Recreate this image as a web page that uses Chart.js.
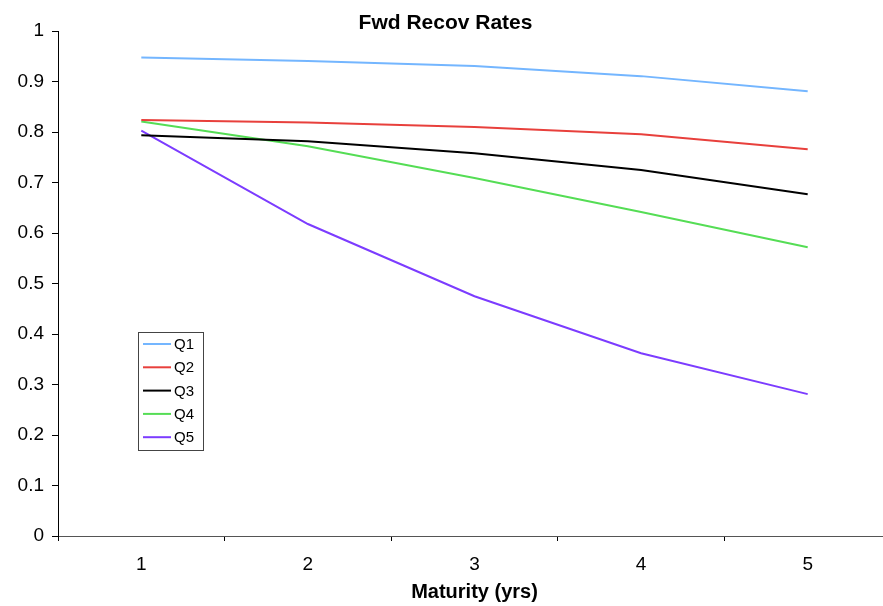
<!DOCTYPE html>
<html>
<head>
<meta charset="utf-8">
<script src="https://cdn.jsdelivr.net/npm/chart.js@4"></script>
<style>
  html, body { margin: 0; padding: 0; background: #fff; overflow: hidden; }
  #wrap { width: 900px; height: 606px; }
</style>
</head>
<body>
<div id="wrap"><canvas id="grafico"></canvas></div>
<script>
const maturities = ['1', '2', '3', '4', '5'];
const q1 = [0.948, 0.941, 0.931, 0.911, 0.881];
const q2 = [0.824, 0.819, 0.810, 0.796, 0.766];
const q3 = [0.794, 0.782, 0.758, 0.725, 0.677];
const q4 = [0.821, 0.772, 0.709, 0.642, 0.572];
const q5 = [0.803, 0.618, 0.475, 0.362, 0.281];

const fuente = 'Arial, "Liberation Sans", sans-serif';

// legend box drawn inside the plot, like the original
const leyendaCaja = {
    id: 'leyendaCaja',
    afterDraw(chart) {
        const ctx = chart.ctx;
        const x = 138, y = 332, w = 65, h = 118;
        ctx.save();
        ctx.fillStyle = '#fff';
        ctx.fillRect(x, y, w, h);
        ctx.strokeStyle = '#444';
        ctx.lineWidth = 1;
        ctx.strokeRect(x + 0.5, y + 0.5, w, h);
        ctx.font = '15px ' + fuente;
        ctx.textBaseline = 'middle';
        chart.data.datasets.forEach((ds, i) => {
            const fy = 344 + i * 23.3;
            ctx.strokeStyle = ds.borderColor;
            ctx.lineWidth = 2;
            ctx.beginPath();
            ctx.moveTo(143, fy);
            ctx.lineTo(171, fy);
            ctx.stroke();
            ctx.fillStyle = '#000';
            ctx.fillText(ds.label, 174, fy + 1);
        });
        ctx.restore();
    }
};

const serie = (label, data, color) => ({
    label: label,
    data: data,
    borderColor: color,
    backgroundColor: color,
    borderWidth: 2,
    pointRadius: 0,
    tension: 0,
    fill: false
});

new Chart(document.getElementById('grafico'), {
    type: 'line',
    data: {
        labels: maturities,
        datasets: [
            serie('Q1', q1, '#74b6ff'),
            serie('Q2', q2, '#e8403c'),
            serie('Q3', q3, '#000000'),
            serie('Q4', q4, '#55dd55'),
            serie('Q5', q5, '#7c3cff')
        ]
    },
    options: {
        responsive: true,
        maintainAspectRatio: false,
        animation: false,
        layout: { padding: { left: 0, right: 9, top: 0, bottom: 0 } },
        plugins: {
            legend: { display: false },
            tooltip: { enabled: false },
            title: {
                display: true,
                text: 'Fwd Recov Rates',
                color: '#000',
                font: { family: fuente, size: 21, weight: 'bold' },
                padding: { top: 11, bottom: -5 }
            }
        },
        scales: {
            x: {
                type: 'category',
                offset: true,
                grid: { display: true, drawOnChartArea: false, offset: true, tickLength: 5, color: '#000' },
                border: { color: '#555', width: 1 },
                ticks: { color: '#000', font: { family: fuente, size: 19 }, padding: 12, maxRotation: 0 },
                title: {
                    display: true,
                    text: 'Maturity (yrs)',
                    color: '#000',
                    font: { family: fuente, size: 20, weight: 'bold' },
                    padding: { top: 0, bottom: 2 }
                },
                afterFit(scale) { scale.height = 70; }
            },
            y: {
                min: 0,
                max: 1,
                ticks: {
                    stepSize: 0.1,
                    color: '#000',
                    font: { family: fuente, size: 19 },
                    padding: 8,
                    callback: (v) => String(Math.round(v * 10) / 10)
                },
                grid: { display: true, drawOnChartArea: false, tickLength: 6, color: '#000' },
                border: { color: '#000', width: 1 },
                afterFit(scale) { scale.width = 58; }
            }
        }
    },
    plugins: [leyendaCaja]
});
</script>
</body>
</html>
